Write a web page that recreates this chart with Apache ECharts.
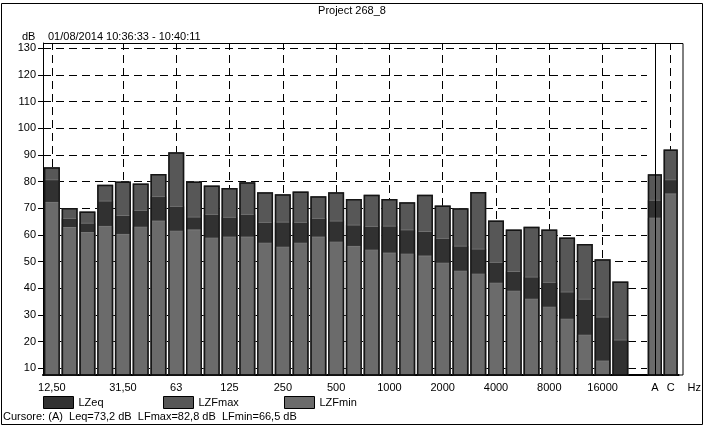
<!DOCTYPE html>
<html>
<head>
<meta charset="utf-8">
<script src="https://cdn.jsdelivr.net/npm/echarts@6/dist/echarts.min.js"></script>
<style>
  html, body { margin: 0; padding: 0; background: #fff; }
  #chart { width: 704px; height: 426px; }
</style>
</head>
<body>
<div id="chart"></div>
<script>
// Third-octave bands (Hz) and the labelled ones on the axis
const bands = ['12,50','16','20','25','31,50','40','50','63','80','100','125','160','200','250','315','400','500','630','800','1000','1250','1600','2000','2500','3150','4000','5000','6300','8000','10000','12500','16000','20000'];
const bandLabels = ['12,50','31,50','63','125','250','500','1000','2000','4000','8000','16000'];

// Band levels, dB
const lzfmax = [85.4,70.1,68.8,78.8,80.1,79.3,82.9,91.0,80.1,78.6,77.6,79.8,76.0,75.3,76.3,74.5,76.0,73.5,75.1,73.5,72.3,75.1,71.1,70.0,76.1,65.4,62.1,63.1,62.1,59.1,56.6,50.9,42.6];
const lzeq   = [80.9,66.4,64.6,72.9,67.5,69.4,74.6,70.9,66.9,67.9,66.8,67.9,64.9,65.0,64.9,66.4,65.4,63.9,63.4,63.5,62.1,61.5,58.9,56.0,54.9,49.9,46.5,44.4,42.4,38.8,36.1,29.4,20.8];
const lzfmin = [72.4,63.0,61.1,63.4,60.4,63.1,65.4,61.6,62.1,59.0,59.4,59.4,57.1,55.6,57.1,59.4,57.5,55.9,54.5,53.4,53.0,52.3,49.6,46.6,45.5,42.1,39.1,36.1,33.1,28.6,22.6,12.9,6.0];

// Weighted overall levels, dB
const weights = ['A','C'];
const wMax = [82.8, 92.1];
const wEq  = [73.2, 80.9];
const wMin = [66.5, 75.6];

// Level axis ticks
const yTicks = [10,20,30,40,50,60,70,80,90,100,110,120,130];

const FONT = 'Liberation Sans, Arial, sans-serif';
const COL = { eq: '#313131', max: '#575757', min: '#6b6b6b' };
const PLOT = { left: 43, top: 43, right: 21, bottom: 51 };
const SPLIT = 647; // x where the weighted-level panel begins
const W = 704, H = 426;

const txt = () => ({ color: '#000', fontSize: 11, fontFamily: FONT, fontWeight: 'normal' });
const fmt = v => v.toFixed(1).replace('.', ',');
const cursor = 'Cursore: (A)  Leq=' + fmt(wEq[0]) + ' dB  LFmax=' + fmt(wMax[0]) + ' dB  LFmin=' + fmt(wMin[0]) + ' dB';

function barSet(ix, maxD, eqD, minD, marks) {
  const common = { type: 'bar', xAxisIndex: ix, yAxisIndex: ix, barGap: '-100%', barWidth: '90%', animation: false, clip: true };
  return [
    Object.assign({}, common, { name: 'LZFmax', data: maxD, z: 2, itemStyle: { color: COL.max }, markLine: marks }),
    Object.assign({}, common, { name: 'LZeq', data: eqD, z: 3, itemStyle: { color: COL.eq, borderColor: '#707070', borderWidth: 1 } }),
    Object.assign({}, common, { name: 'LZFmin', data: minD, z: 4, itemStyle: { color: COL.min, borderColor: '#7a7a7a', borderWidth: 1 } }),
    Object.assign({}, common, { name: 'outline', data: maxD, z: 5, silent: true, itemStyle: { color: 'rgba(0,0,0,0)', borderColor: '#151515', borderWidth: 1.5 } })
  ];
}

const dashed = { color: '#000', width: 1, type: [8, 5] };

const bandMarks = {
  z: 1, silent: true, symbol: 'none', label: { show: false },
  lineStyle: dashed,
  data: bandLabels.map(b => ({ xAxis: b }))
};
const weightMarks = {
  z: 1, silent: true, symbol: 'none', label: { show: false },
  lineStyle: dashed,
  data: [{ xAxis: weights[1] }]
};
const cursorMark = {
  z: 10, silent: true, symbol: 'none', label: { show: false },
  lineStyle: { color: '#000', width: 1, type: 'solid' },
  data: [{ xAxis: weights[0] }]
};

const series = barSet(0, lzfmax, lzeq, lzfmin, bandMarks)
  .concat(barSet(1, wMax, wEq, wMin, weightMarks));
series[series.length - 1].markLine = cursorMark;

const legendItem = (name, left) => ({
  data: [name], left: left, top: 396, padding: 0, itemWidth: 30, itemHeight: 12, icon: 'rect',
  selectedMode: false, textStyle: txt(), itemStyle: { borderColor: '#000', borderWidth: 1 }
});

const chart = echarts.init(document.getElementById('chart'), null, { renderer: 'canvas' });
chart.setOption({
  animation: false,
  backgroundColor: '#fff',
  textStyle: { fontFamily: FONT },
  title: [
    { text: 'Project 268_8', left: 'center', top: 5, padding: 0, textStyle: txt() },
    { text: 'dB', left: 22, top: 31, padding: 0, textStyle: txt() },
    { text: '01/08/2014 10:36:33 - 10:40:11', left: 48, top: 31, padding: 0, textStyle: txt() },
    { text: cursor, left: 3, top: 411, padding: 0, textStyle: txt() }
  ],
  legend: [
    legendItem('LZeq', 43),
    legendItem('LZFmax', 163),
    legendItem('LZFmin', 284)
  ],
  grid: [
    { left: PLOT.left, top: PLOT.top, right: W - SPLIT, bottom: PLOT.bottom },
    { left: SPLIT, top: PLOT.top, right: PLOT.right, bottom: PLOT.bottom }
  ],
  xAxis: [
    {
      gridIndex: 0, type: 'category', data: bands.concat(['']),
      axisLine: { show: true, lineStyle: { color: '#000', width: 2 } },
      axisTick: { show: false },
      axisLabel: { interval: (i, name) => bandLabels.indexOf(name) >= 0, margin: 7, color: '#000', fontSize: 11, fontFamily: FONT },
      splitLine: { show: false }
    },
    {
      gridIndex: 1, type: 'category', data: weights,
      name: 'Hz', nameLocation: 'end', nameGap: 9,
      nameTextStyle: { color: '#000', fontSize: 11, fontFamily: FONT, verticalAlign: 'top', padding: [7, 0, 0, 0] },
      axisLine: { show: true, lineStyle: { color: '#000', width: 2 } },
      axisTick: { show: false },
      axisLabel: { interval: 0, margin: 7, color: '#000', fontSize: 11, fontFamily: FONT },
      splitLine: { show: false }
    }
  ],
  yAxis: [
    {
      gridIndex: 0, type: 'value', min: 7.5, max: 132,
      axisLine: { show: true, lineStyle: { color: '#000', width: 1 } },
      axisTick: { show: true, customValues: yTicks, length: 5, lineStyle: { color: '#000' } },
      axisLabel: { customValues: yTicks, margin: 7, color: '#000', fontSize: 11, fontFamily: FONT },
      splitLine: { show: true, lineStyle: dashed }
    },
    {
      gridIndex: 1, type: 'value', min: 7.5, max: 132,
      axisLine: { show: false }, axisTick: { show: false }, axisLabel: { show: false },
      splitLine: { show: false }
    }
  ],
  graphic: [
    { type: 'rect', silent: true, z: 20,
      shape: { x: PLOT.left + 0.5, y: PLOT.top + 0.5, width: W - PLOT.left - PLOT.right - 0.5, height: H - PLOT.top - PLOT.bottom - 0.5 },
      style: { fill: 'none', stroke: '#000', lineWidth: 1 } },
    { type: 'rect', silent: true, z: 20,
      shape: { x: 1.5, y: 3.5, width: W - 3, height: H - 5 },
      style: { fill: 'none', stroke: '#000', lineWidth: 1 } }
  ],
  series: series
});
</script>
</body>
</html>
